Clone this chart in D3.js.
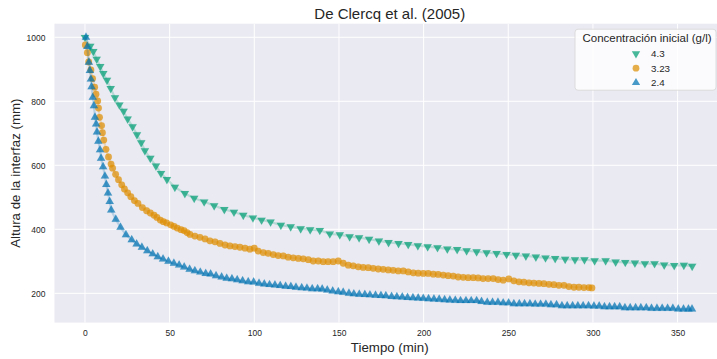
<!DOCTYPE html>
<html>
<head>
<meta charset="utf-8">
<script src="https://cdn.jsdelivr.net/npm/d3@7"></script>
<style>
    body { margin: 0; background: #fff; }
    .chart text { font-family: "Liberation Sans", Arial, sans-serif; fill: #262626; }
</style>
</head>
<body>
<div class="chart"></div>
<script>
// Concentración inicial 4.3 g/l
const time43 = [0, 3.1, 4.9, 6.9, 9, 10.8, 13, 15.2, 17.7, 20.3, 22.8, 25.2, 28.1, 30.7, 33.2, 35.4, 38.6, 41.9, 44.9, 48.4,
    53.1, 59, 64.5, 70.4, 76.3, 82.3, 88, 93.5, 99.2, 104.3, 109.6, 115.7, 121.5, 127.4, 133, 138.7, 144.6, 150.5, 156.3, 161.9,
    167.8, 173.6, 179.3, 185.2, 190.9, 196.6, 202.4, 208.2, 214, 219.8, 225.4, 231.3, 237.2, 243.1, 249, 254.5, 260.4, 266.3, 272, 277.7,
    283.6, 289.4, 295, 301, 307.5, 313.4, 319.1, 324.8, 330.7, 336.4, 342.1, 348, 353.7, 358.6];
const height43 = [1000, 972, 956, 932, 909, 887, 866, 840, 811, 789, 769, 745, 721, 696, 671, 646, 622, 598, 575, 556,
    532, 512, 497, 486, 474, 462, 454, 444, 436, 429, 423, 413, 408, 402, 399, 397, 386, 383, 377, 374,
    369, 364, 359, 356, 353, 349, 346, 343, 339, 337, 333, 330, 327, 325, 322, 319, 317, 314, 311, 309,
    307, 305, 305, 302, 302, 298, 297, 295, 293, 293, 289, 287, 288, 285];

// Concentración inicial 3.23 g/l
const time323 = [0.2, 1.4, 2.2, 3.5, 4.5, 5.7, 6.5, 7.5, 8, 8.6, 9.8, 10.3, 11.1, 12.4, 13.9, 15.4, 16.3, 18.1, 19.8, 21.7,
    23.3, 25.2, 27.1, 29.2, 31.3, 33.9, 36.4, 38.6, 40.8, 42.5, 44.5, 46.3, 48.2, 50.6, 52.6, 54.5, 56.7, 58.5, 60.3, 62,
    64.9, 67.9, 70.9, 73.8, 76.8, 79.7, 82.7, 85.6, 88.6, 91.5, 94.5, 97.4, 100, 102.3, 105.3, 108.2, 111.2, 114.1, 117.1, 120,
    123, 126, 128.9, 131.9, 134.8, 137.8, 140.7, 143.6, 146.6, 149.6, 152.5, 155.5, 158.4, 161.4, 164.3, 167.3, 170.2, 173.2, 176.1, 179.1,
    182, 185, 188, 190.9, 193.9, 196.8, 199.8, 202.7, 205.7, 208.6, 211.6, 214.5, 217.5, 220.4, 223.4, 226.3, 229.3, 232.2, 235.1, 238.1,
    241.1, 244, 247, 250.3, 253.3, 256.3, 259.2, 262.2, 265.1, 268.1, 271, 274, 276.9, 279.9, 282.9, 285.8, 288.8, 291.7, 294.7, 297.6, 299.4];
const height323 = [976, 952, 923, 898, 871, 844, 822, 801, 779, 750, 724, 702, 679, 650, 626, 604, 591, 572, 555, 539,
    526, 514, 502, 490, 481, 468, 458, 451, 444, 437, 429, 424, 420, 414, 409, 404, 399, 396, 390, 384,
    379, 375, 370, 364, 361, 356, 351, 348, 346, 344, 341, 338, 341, 332, 327, 325, 321, 318, 317, 313,
    311, 309, 308, 305, 301, 301, 299, 299, 299, 301, 294, 288, 286, 283, 281, 280, 278, 276, 275, 273,
    272, 270, 270, 267, 264, 263, 262, 262, 260, 259, 257, 255, 254, 251, 250, 249, 249, 248, 246, 246,
    246, 243, 241, 245, 239, 236, 235, 233, 232, 231, 230, 228, 227, 225, 225, 221, 219, 219, 218, 218, 217];

// Concentración inicial 2.4 g/l
const time24 = [0.6, 1.4, 2.3, 2.9, 3.5, 3.9, 4.6, 5.3, 5.9, 6.6, 7.1, 7.9, 8.9, 9.5, 10.7, 11.8, 12.6, 13.6, 14.6, 15.5,
    18.2, 21, 24.2, 27.6, 30.5, 33.6, 36.8, 40, 43, 46.1, 49.3, 52.5, 55.6, 58.6, 61.8, 64.9, 68.1, 71.3, 74.2, 77.4,
    80.7, 83.7, 86.8, 89.9, 93.1, 96.4, 99.6, 102.8, 105.9, 109, 112.2, 115.3, 118.5, 121.6, 124.6, 128, 131.1, 134.2, 137.4, 140.1,
    143.1, 146.3, 149.6, 152.5, 155.9, 158.8, 162, 165.3, 168.3, 171.6, 174.8, 177.7, 181.1, 184.2, 187.4, 190.5, 193.7, 196.8, 199.8, 202.9,
    206.1, 209.2, 212.4, 215.5, 218.7, 221.8, 225, 228.1, 231.3, 234.2, 237.6, 240.7, 243.9, 247, 250.2, 253.3, 256.5, 259.6, 262.8, 265.9,
    269.1, 272.2, 275.2, 278.5, 281.7, 284.8, 288, 291.1, 294.2, 297.4, 300.6, 303.7, 306.8, 309.8, 312.8, 315.8, 318.9, 322, 325.2, 328.3,
    331.5, 334.6, 337.8, 340.9, 344.1, 347.2, 350.4, 353.5, 356.4, 358.5];
const height24 = [1000, 971, 922, 896, 869, 845, 812, 786, 750, 729, 704, 675, 648, 622, 595, 566, 540, 513, 487, 460,
    431, 406, 383, 367, 354, 344, 333, 323, 314, 307, 300, 294, 288, 282, 275, 270, 266, 262, 260, 255,
    251, 247, 245, 242, 239, 236, 235, 231, 229, 227, 226, 224, 222, 221, 219, 217, 216, 214, 214, 213,
    210, 207, 205, 203, 200, 198, 197, 196, 195, 194, 193, 192, 190, 189, 188, 187, 186, 185, 184, 183,
    182, 181, 180, 179, 178, 177, 177, 177, 177, 174, 172, 172, 172, 170, 170, 167, 167, 167, 167, 166,
    166, 166, 164, 164, 161, 161, 161, 161, 161, 161, 160, 160, 158, 158, 158, 158, 155, 155, 155, 155,
    155, 153, 153, 153, 153, 153, 151, 151, 151, 151];

const seriesNames = ["4.3", "3.23", "2.4"];
const seriesColors = ["#029e73", "#de8f05", "#0173b2"];
const xTicks = [0, 50, 100, 150, 200, 250, 300, 350];
const yTicks = [200, 400, 600, 800, 1000];

function drawChart() {
    const w = 717;
    const h = 359;
    const margin = { top: 23.7, right: -8, bottom: 36.4, left: 54.5 };
    const chartWidth = w - margin.left - margin.right;
    const chartHeight = h - margin.top - margin.bottom;

    const series = [
        { name: seriesNames[0], color: seriesColors[0], shape: "down", points: time43.map((t, i) => [t, height43[i]]) },
        { name: seriesNames[1], color: seriesColors[1], shape: "circle", points: time323.map((t, i) => [t, height323[i]]) },
        { name: seriesNames[2], color: seriesColors[2], shape: "up", points: time24.map((t, i) => [t, height24[i]]) }
    ];

    // matplotlib style 5% margins
    const allH = height43.concat(height323, height24);
    const tMin = 0, tMax = 360;
    const hMin = d3.min(allH), hMax = d3.max(allH);
    const padT = (tMax - tMin) * 0.05;
    const padH = (hMax - hMin) * 0.05;

    const xScale = d3.scaleLinear()
        .domain([tMin - padT, tMax + padT])
        .range([0, chartWidth]);

    const yScale = d3.scaleLinear()
        .domain([hMin - padH, hMax + padH])
        .range([chartHeight, 0]);

    const svg = d3.select('.chart')
        .append('svg')
        .attr('width', w)
        .attr('height', h)
        .append('g')
        .attr('transform', 'translate(' + margin.left + ', ' + margin.top + ')');

    svg.append('rect')
        .attr('width', chartWidth)
        .attr('height', chartHeight)
        .attr('fill', '#eaeaf2');

    // grid
    svg.append('g')
        .selectAll('line')
        .data(xTicks)
        .enter()
        .append('line')
        .attr('x1', d => xScale(d))
        .attr('x2', d => xScale(d))
        .attr('y1', 0)
        .attr('y2', chartHeight)
        .attr('stroke', '#fff')
        .attr('stroke-width', 1);

    svg.append('g')
        .selectAll('line')
        .data(yTicks)
        .enter()
        .append('line')
        .attr('x1', 0)
        .attr('x2', chartWidth)
        .attr('y1', d => yScale(d))
        .attr('y2', d => yScale(d))
        .attr('stroke', '#fff')
        .attr('stroke-width', 1);

    const xAxis = d3.axisBottom(xScale).tickValues(xTicks).tickFormat(d3.format('d')).tickSize(0).tickPadding(7.5);
    const yAxis = d3.axisLeft(yScale).tickValues(yTicks).tickFormat(d3.format('d')).tickSize(0).tickPadding(9);

    const gx = svg.append('g')
        .attr('transform', 'translate(0,' + chartHeight + ')')
        .call(xAxis);
    const gy = svg.append('g').call(yAxis);
    [gx, gy].forEach(g => {
        g.select('.domain').remove();
        g.selectAll('text')
            .style('font-family', '"Liberation Sans", Arial, sans-serif')
            .style('font-size', '8.5px')
            .attr('fill', '#262626');
    });

    const line = d3.line()
        .x(d => xScale(d[0]))
        .y(d => yScale(d[1]));

    const symbolFor = shape => {
        if (shape === "circle") return d3.symbol().type(d3.symbolCircle).size(36)();
        return d3.symbol().type(d3.symbolTriangle).size(30)();
    };

    for (let s of series) {
        svg.append('path')
            .datum(s.points)
            .attr('d', line)
            .attr('fill', 'none')
            .attr('stroke', s.color)
            .attr('stroke-opacity', 0.22)
            .attr('stroke-width', 2.2);

        svg.append('g')
            .selectAll('path')
            .data(s.points)
            .enter()
            .append('path')
            .attr('d', symbolFor(s.shape))
            .attr('transform', d => 'translate(' + xScale(d[0]) + ',' + yScale(d[1]) + ')' + (s.shape === "down" ? ' rotate(180)' : ''))
            .attr('fill', s.color)
            .attr('fill-opacity', 0.72)
            .attr('stroke', s.color)
            .attr('stroke-opacity', 0.15)
            .attr('stroke-width', 0.5);
    }

    // title and labels
    svg.append('text')
        .attr('x', chartWidth / 2)
        .attr('y', -5)
        .attr('text-anchor', 'middle')
        .style('font-size', '15px')
        .text('De Clercq et al. (2005)');

    svg.append('text')
        .attr('x', chartWidth / 2)
        .attr('y', chartHeight + 29.5)
        .attr('text-anchor', 'middle')
        .style('font-size', '13.3px')
        .text('Tiempo (min)');

    svg.append('text')
        .attr('transform', 'rotate(-90)')
        .attr('x', -chartHeight / 2)
        .attr('y', -35)
        .attr('text-anchor', 'middle')
        .style('font-size', '13.3px')
        .text('Altura de la interfaz (mm)');

    // legend
    const legend = svg.append('g')
        .attr('transform', 'translate(' + (chartWidth - 150) + ', 5.5)');

    legend.append('rect')
        .attr('width', 141)
        .attr('height', 61)
        .attr('rx', 3)
        .attr('fill', '#fff')
        .attr('fill-opacity', 0.8)
        .attr('stroke', '#d6d6d6')
        .attr('stroke-width', 0.8);

    legend.append('text')
        .attr('x', 72)
        .attr('y', 13)
        .attr('text-anchor', 'middle')
        .style('font-size', '11.5px')
        .text('Concentración inicial (g/l)');

    series.forEach((s, i) => {
        const row = legend.append('g')
            .attr('transform', 'translate(0,' + (24.5 + i * 14.5) + ')');
        row.append('path')
            .attr('d', symbolFor(s.shape))
            .attr('transform', 'translate(61,0)' + (s.shape === "down" ? ' rotate(180)' : ''))
            .attr('fill', s.color)
            .attr('fill-opacity', 0.72);
        row.append('text')
            .attr('x', 76)
            .attr('y', 3.5)
            .style('font-size', '9.8px')
            .text(s.name);
    });
}

drawChart();
</script>
</body>
</html>
